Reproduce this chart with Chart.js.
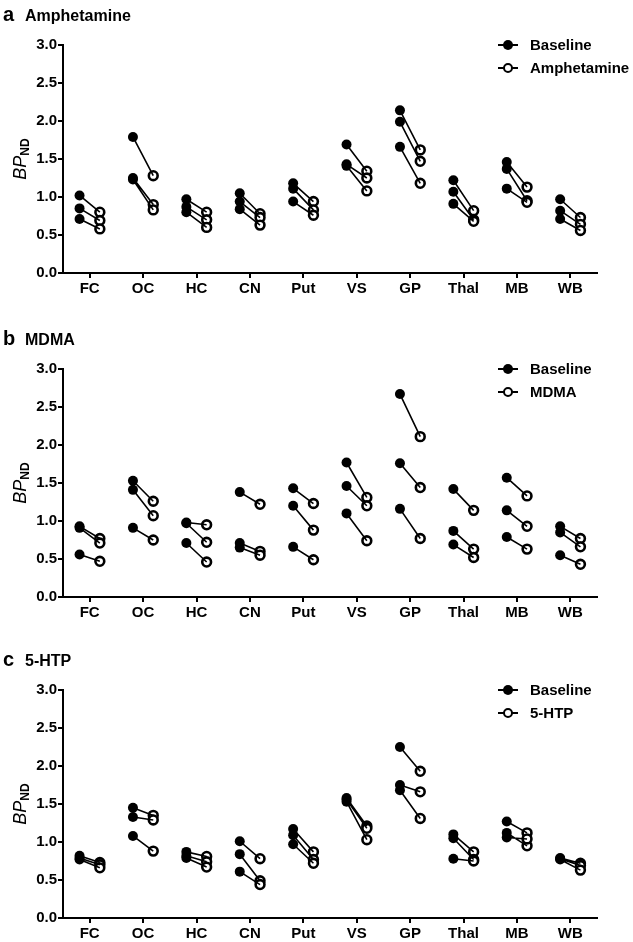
<!DOCTYPE html>
<html>
<head>
<meta charset="utf-8">
<script src="https://cdn.jsdelivr.net/npm/chart.js@4.4.1/dist/chart.umd.min.js"></script>
<style>
  html, body { margin: 0; padding: 0; background: #fff; overflow: hidden; }
  body { width: 633px; height: 942px; position: relative; font-family: "Liberation Sans", Arial, sans-serif; color: #000; }
  .panel { position: absolute; left: 0; width: 633px; height: 297px; }
  .panel canvas { position: absolute; left: 0; top: 0; }
  .letter { position: absolute; left: 3px; top: 2px; font-size: 20px; font-weight: bold; line-height: 24px; }
  .title { position: absolute; left: 25px; top: 6px; font-size: 16px; font-weight: bold; line-height: 20px; }
  .ylab { position: absolute; left: -30px; top: 147px; width: 100px; height: 24px; line-height: 24px;
          text-align: center; transform: rotate(-90deg); font-size: 18px; }
  .ylab i { font-style: italic; }
  .ylab sub { font-size: 12px; font-weight: bold; vertical-align: -3px; }
  .leg { position: absolute; left: 498px; height: 20px; width: 140px; }
  .leg .ln { position: absolute; left: 0; top: 9px; width: 20px; height: 2px; background: #000; }
  .leg .dot { position: absolute; left: 5px; top: 5px; width: 10px; height: 10px; border-radius: 50%; background: #000; box-sizing: border-box; }
  .leg .open { background: #fff; border: 2.5px solid #000; }
  .leg span { position: absolute; left: 32px; top: 0; line-height: 20px; font-size: 15px; font-weight: bold; white-space: nowrap; }
</style>
</head>
<body>

<div class="panel" style="top:0px">
  <canvas id="chartA" width="633" height="297"></canvas>
  <div class="letter">a</div><div class="title">Amphetamine</div>
  <div class="ylab"><i>BP</i><sub>ND</sub></div>
  <div class="leg" style="top:35px"><div class="ln"></div><div class="dot"></div><span>Baseline</span></div>
  <div class="leg" style="top:58px"><div class="ln"></div><div class="dot open"></div><span>Amphetamine</span></div>
</div>

<div class="panel" style="top:324px">
  <canvas id="chartB" width="633" height="297"></canvas>
  <div class="letter">b</div><div class="title">MDMA</div>
  <div class="ylab"><i>BP</i><sub>ND</sub></div>
  <div class="leg" style="top:35px"><div class="ln"></div><div class="dot"></div><span>Baseline</span></div>
  <div class="leg" style="top:58px"><div class="ln"></div><div class="dot open"></div><span>MDMA</span></div>
</div>

<div class="panel" style="top:645px">
  <canvas id="chartC" width="633" height="297"></canvas>
  <div class="letter">c</div><div class="title">5-HTP</div>
  <div class="ylab"><i>BP</i><sub>ND</sub></div>
  <div class="leg" style="top:35px"><div class="ln"></div><div class="dot"></div><span>Baseline</span></div>
  <div class="leg" style="top:58px"><div class="ln"></div><div class="dot open"></div><span>5-HTP</span></div>
</div>

<script>
'use strict';

var regions = ['FC', 'OC', 'HC', 'CN', 'Put', 'VS', 'GP', 'Thal', 'MB', 'WB'];
var yTicks = [0, 0.5, 1, 1.5, 2, 2.5, 3];

// three subjects per region, baseline[k] pairs with post[k]
var amphBaseline = [[1.02, 0.85, 0.71], [1.79, 1.25, 1.23], [0.97, 0.87, 0.80], [1.05, 0.94, 0.84], [1.18, 1.11, 0.94],
                    [1.69, 1.43, 1.41], [2.14, 1.99, 1.66], [1.22, 1.07, 0.91], [1.46, 1.37, 1.11], [0.97, 0.82, 0.71]];
var amphPost     = [[0.80, 0.69, 0.58], [1.28, 0.90, 0.83], [0.80, 0.70, 0.60], [0.78, 0.73, 0.63], [0.94, 0.83, 0.76],
                    [1.34, 1.25, 1.08], [1.62, 1.47, 1.18], [0.82, 0.70, 0.68], [1.13, 0.95, 0.93], [0.73, 0.64, 0.56]];

var mdmaBaseline = [[0.93, 0.91, 0.56], [1.53, 1.41, 0.91], [0.98, 0.97, 0.71], [1.38, 0.71, 0.65], [1.43, 1.20, 0.66],
                    [1.77, 1.46, 1.10], [2.67, 1.76, 1.16], [1.42, 0.87, 0.69], [1.57, 1.14, 0.79], [0.93, 0.85, 0.55]];
var mdmaPost     = [[0.77, 0.71, 0.47], [1.26, 1.07, 0.75], [0.95, 0.72, 0.46], [1.22, 0.60, 0.55], [1.23, 0.88, 0.49],
                    [1.31, 1.20, 0.74], [2.11, 1.44, 0.77], [1.14, 0.63, 0.52], [1.33, 0.93, 0.63], [0.77, 0.66, 0.43]];

var htpBaseline  = [[0.82, 0.79, 0.77], [1.45, 1.33, 1.08], [0.87, 0.82, 0.79], [1.01, 0.84, 0.61], [1.17, 1.09, 0.97],
                    [1.58, 1.56, 1.53], [2.25, 1.75, 1.68], [1.10, 1.05, 0.78], [1.27, 1.12, 1.06], [0.79, 0.78, 0.77]];
var htpPost      = [[0.73, 0.70, 0.66], [1.35, 1.29, 0.88], [0.81, 0.74, 0.67], [0.78, 0.49, 0.44], [0.87, 0.77, 0.72],
                    [1.21, 1.18, 1.03], [1.93, 1.66, 1.31], [0.87, 0.77, 0.75], [1.12, 0.95, 1.04], [0.72, 0.69, 0.63]];

var shift = 0.19;
var fontFamily = '"Liberation Sans", Arial, sans-serif';

function pairLines(base, post) {
  var pts = [];
  for (var i = 0; i < regions.length; i++) {
    for (var k = 0; k < base[i].length; k++) {
      pts.push({x: i - shift, y: base[i][k]});
      pts.push({x: i + shift, y: post[i][k]});
      pts.push({x: i, y: null});
    }
  }
  return pts;
}

function points(vals, dx) {
  var pts = [];
  for (var i = 0; i < vals.length; i++) {
    for (var k = 0; k < vals[i].length; k++) {
      pts.push({x: i + dx, y: vals[i][k]});
    }
  }
  return pts;
}

function axisStyle() {
  return {
    grid: {drawOnChartArea: false, drawTicks: true, tickLength: 5, color: '#000', lineWidth: 2},
    border: {color: '#000', width: 2}
  };
}

function makeChart(id, base, post) {
  var ctx = document.getElementById(id).getContext('2d');
  var xAxis = axisStyle();
  var yAxis = axisStyle();

  xAxis.type = 'linear';
  xAxis.min = -0.5;
  xAxis.max = 9.5;
  xAxis.afterBuildTicks = function(s) { s.ticks = regions.map(function(r, i) { return {value: i}; }); };
  xAxis.afterFit = function(s) { s.height = 24; };
  xAxis.ticks = {
    callback: function(v) { return regions[Math.round(v)]; },
    color: '#000', font: {family: fontFamily, size: 15, weight: 'bold'},
    padding: 2, autoSkip: false, maxRotation: 0
  };

  yAxis.min = 0;
  yAxis.max = 3;
  yAxis.afterBuildTicks = function(s) { s.ticks = yTicks.map(function(v) { return {value: v}; }); };
  yAxis.afterFit = function(s) { s.width = 63; };
  yAxis.ticks = {
    callback: function(v) { return v.toFixed(1); },
    color: '#000', font: {family: fontFamily, size: 15, weight: 'bold'},
    padding: 1
  };

  return new Chart(ctx, {
    type: 'scatter',
    data: {
      datasets: [
        {
          data: pairLines(base, post),
          showLine: true,
          spanGaps: false,
          borderColor: '#000',
          borderWidth: 1.6,
          pointRadius: 0,
          order: 0
        },
        {
          data: points(base, -shift),
          pointRadius: 5,
          pointBackgroundColor: '#000',
          pointBorderColor: '#000',
          pointBorderWidth: 0,
          order: 1
        },
        {
          data: points(post, shift),
          pointRadius: 4.4,
          pointBackgroundColor: '#fff',
          pointBorderColor: '#000',
          pointBorderWidth: 2.6,
          order: 2
        }
      ]
    },
    options: {
      responsive: false,
      animation: false,
      devicePixelRatio: 1,
      layout: {padding: {top: 45, right: 36, left: 0, bottom: 0}},
      plugins: {legend: {display: false}, tooltip: {enabled: false}},
      scales: {x: xAxis, y: yAxis}
    }
  });
}

makeChart('chartA', amphBaseline, amphPost);
makeChart('chartB', mdmaBaseline, mdmaPost);
makeChart('chartC', htpBaseline, htpPost);
</script>
</body>
</html>
